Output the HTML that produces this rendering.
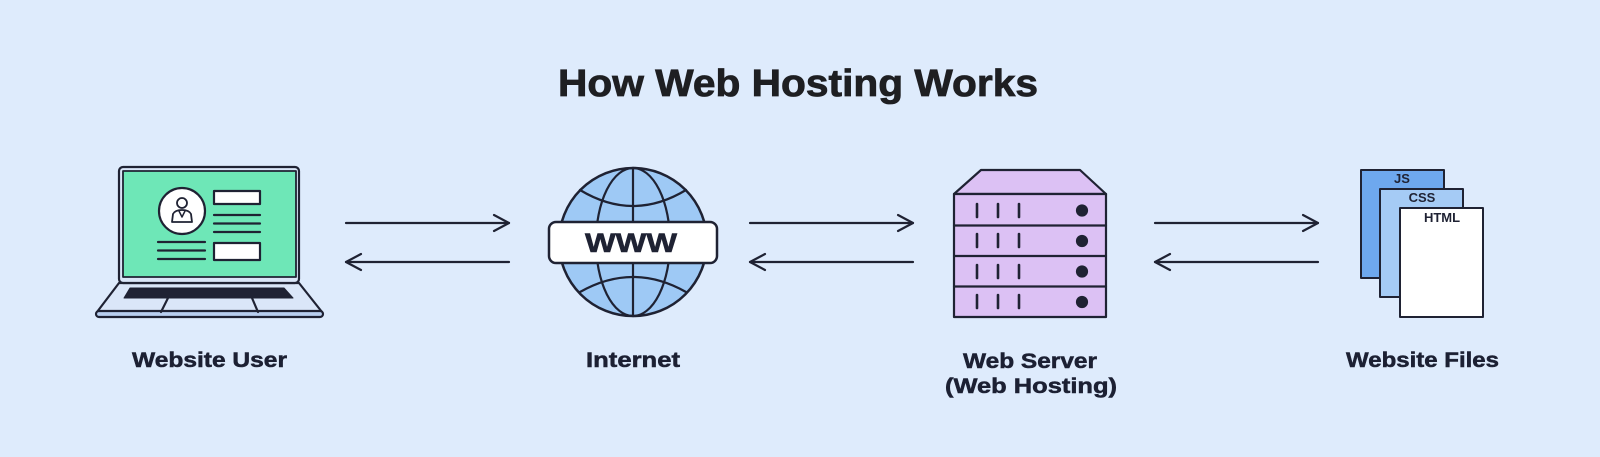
<!DOCTYPE html>
<html><head><meta charset="utf-8"><style>
html,body{margin:0;padding:0;background:#deebfc;}
svg{display:block;}
text{font-family:"Liberation Sans",Arial,sans-serif;font-weight:bold;}
</style></head><body>
<svg width="1600" height="457" viewBox="0 0 1600 457" xmlns="http://www.w3.org/2000/svg">
<rect width="1600" height="457" fill="#deebfc"/>
<!-- Title -->
<text x="558" y="96" font-size="38" fill="#1e1f22" stroke="#1e1f22" stroke-width="0.8" textLength="480" lengthAdjust="spacingAndGlyphs">How Web Hosting Works</text>

<g stroke="#1f2233" stroke-width="2.2" stroke-linejoin="round" stroke-linecap="round">
<!-- Laptop -->
<path d="M97 312 L119 283 L299 283 L322 312 Z" fill="#dae6f8"/>
<rect x="96" y="311" width="227" height="6" rx="3" fill="#b9cff0"/>
<rect x="119" y="167" width="180" height="116" rx="4" fill="#dae6f8"/>
<rect x="123" y="171" width="173" height="106" fill="#6ee7b7" stroke-width="1.8"/>
<path d="M130 288 L284 288 L293 298 L124 298 Z" fill="#1f2233" stroke-width="1"/>
<line x1="168" y1="298" x2="161" y2="312"/>
<line x1="252" y1="298" x2="258" y2="312"/>
<circle cx="182" cy="211" r="23" fill="#ffffff"/>
<circle cx="182" cy="203" r="5" fill="none" stroke-width="1.8"/>
<path d="M172 222 L173 214 Q175 210 182 210 Q189 210 191 214 L192 222 Z" fill="none" stroke-width="1.8"/>
<path d="M179 211 L182 217 L185 211" fill="none" stroke-width="1.5"/>
<rect x="214" y="191" width="46" height="13" fill="#ffffff"/>
<line x1="214" y1="215" x2="260" y2="215"/>
<line x1="214" y1="223.5" x2="260" y2="223.5"/>
<line x1="214" y1="232" x2="260" y2="232"/>
<line x1="158" y1="242" x2="205" y2="242"/>
<line x1="158" y1="250.5" x2="205" y2="250.5"/>
<line x1="158" y1="259" x2="205" y2="259"/>
<rect x="214" y="243" width="46" height="17" fill="#ffffff"/>

<!-- Arrows set 1 -->
<line x1="346" y1="223" x2="509" y2="223"/>
<polyline points="494,215 509,223 494,231" fill="none"/>
<line x1="346" y1="262" x2="509" y2="262"/>
<polyline points="361,254 346,262 361,270" fill="none"/>

<!-- Globe -->
<circle cx="633" cy="242" r="74" fill="#9ec9f5" stroke-width="2.5"/>
<ellipse cx="633" cy="242" rx="37" ry="74" fill="none"/>
<line x1="633" y1="168" x2="633" y2="316"/>
<path d="M580 190 Q633 222 686 190" fill="none"/>
<path d="M580 292 Q633 262 686 292" fill="none"/>
<rect x="549" y="222" width="168" height="41" rx="7" fill="#ffffff" stroke-width="2.5"/>

<!-- Arrows set 2 -->
<line x1="750" y1="223" x2="913" y2="223"/>
<polyline points="898,215 913,223 898,231" fill="none"/>
<line x1="750" y1="262" x2="913" y2="262"/>
<polyline points="765,254 750,262 765,270" fill="none"/>

<!-- Server -->
<path d="M954 194 L981 170 L1080 170 L1106 194 Z" fill="#dcc1f4"/>
<rect x="954" y="194" width="152" height="123" fill="#dcc1f4"/>
<line x1="954" y1="225.5" x2="1106" y2="225.5"/>
<line x1="954" y1="256" x2="1106" y2="256"/>
<line x1="954" y1="286.5" x2="1106" y2="286.5"/>
<g stroke-width="2.6">
<line x1="977" y1="204" x2="977" y2="217"/><line x1="998" y1="204" x2="998" y2="217"/><line x1="1019" y1="204" x2="1019" y2="217"/>
<line x1="977" y1="234" x2="977" y2="247"/><line x1="998" y1="234" x2="998" y2="247"/><line x1="1019" y1="234" x2="1019" y2="247"/>
<line x1="977" y1="265" x2="977" y2="278"/><line x1="998" y1="265" x2="998" y2="278"/><line x1="1019" y1="265" x2="1019" y2="278"/>
<line x1="977" y1="295" x2="977" y2="308"/><line x1="998" y1="295" x2="998" y2="308"/><line x1="1019" y1="295" x2="1019" y2="308"/>
</g>
<circle cx="1082" cy="210.5" r="5" fill="#1f2233"/>
<circle cx="1082" cy="241" r="5" fill="#1f2233"/>
<circle cx="1082" cy="271.5" r="5" fill="#1f2233"/>
<circle cx="1082" cy="302" r="5" fill="#1f2233"/>

<!-- Arrows set 3 -->
<line x1="1155" y1="223" x2="1318" y2="223"/>
<polyline points="1303,215 1318,223 1303,231" fill="none"/>
<line x1="1155" y1="262" x2="1318" y2="262"/>
<polyline points="1170,254 1155,262 1170,270" fill="none"/>

<!-- Files -->
<rect x="1361" y="170" width="83" height="108" fill="#6ea8ee" stroke-width="2"/>
<rect x="1380" y="189" width="83" height="108" fill="#a5cbf5" stroke-width="2"/>
<rect x="1400" y="208" width="83" height="109" fill="#ffffff" stroke-width="2"/>
</g>

<text x="1402" y="183" font-size="13" fill="#1f2233" text-anchor="middle">JS</text>
<text x="1422" y="202" font-size="13" fill="#1f2233" text-anchor="middle">CSS</text>
<text x="1442" y="222" font-size="13" fill="#1f2233" text-anchor="middle">HTML</text>

<text x="585" y="252" font-size="27" fill="#1f2233" stroke="#1f2233" stroke-width="0.6" textLength="92" lengthAdjust="spacingAndGlyphs">WWW</text>

<!-- Labels -->
<g fill="#1c2033" stroke="#1c2033" stroke-width="0.5" font-size="21">
<text x="132" y="367" textLength="155" lengthAdjust="spacingAndGlyphs">Website User</text>
<text x="586" y="367" textLength="94" lengthAdjust="spacingAndGlyphs">Internet</text>
<text x="963" y="368" textLength="134" lengthAdjust="spacingAndGlyphs">Web Server</text>
<text x="945" y="393" textLength="172" lengthAdjust="spacingAndGlyphs">(Web Hosting)</text>
<text x="1346" y="367" textLength="153" lengthAdjust="spacingAndGlyphs">Website Files</text>
</g>
</svg>
</body></html>
